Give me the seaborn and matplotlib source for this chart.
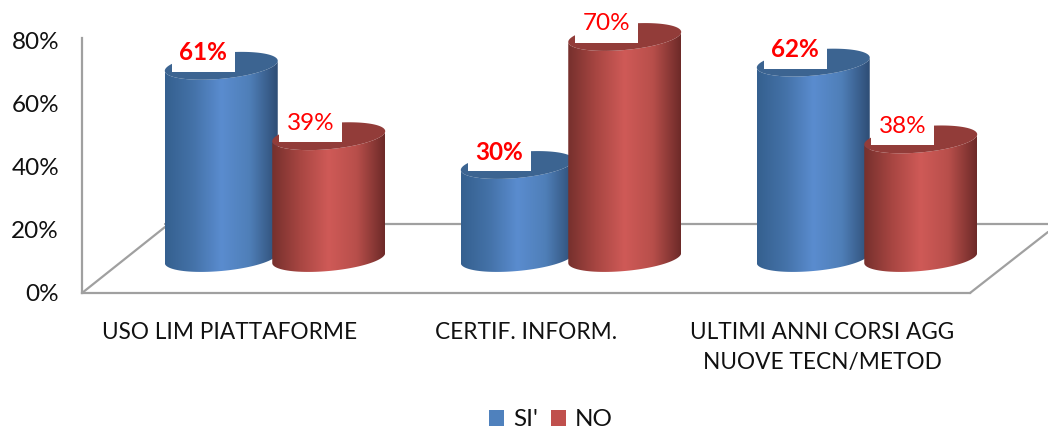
import numpy as np
import pandas as pd
import seaborn as sns
import matplotlib.pyplot as plt
from matplotlib.colors import LinearSegmentedColormap
from matplotlib.lines import Line2D
from matplotlib.patches import Patch, Polygon, Rectangle
from matplotlib.transforms import Affine2D

categories = ['USO LIM PIATTAFORME', 'CERTIF. INFORM.', 'ULTIMI ANNI CORSI AGG\nNUOVE TECN/METOD']
si_values = [61, 30, 62]
no_values = [39, 70, 38]
y_ticks = [0, 20, 40, 60, 80]

W, H = 1048, 430
FONT = 'Lato'
GREY = '#a0a0a0'
INK = '#111111'

# colours of the cylinders: side gradient (dark, light, dark), top face, legend swatch
STYLE = {
    "SI'": dict(side=['#35608f', '#4472a8', '#5a8ccf', '#4f7fb8', '#2e4d75'], top='#3c6491', swatch='#4f81bd', weight='bold'),
    'NO': dict(side=['#76302d', '#a84642', '#cf5a57', '#b84f4b', '#6d2a28'], top='#923c39', swatch='#c0504d', weight='normal'),
}

df = pd.DataFrame({
    'cat': categories * 2,
    'serie': ["SI'"] * 3 + ['NO'] * 3,
    'val': si_values + no_values,
})

sns.set_theme(style='white')
plt.rcParams['font.family'] = [FONT, 'DejaVu Sans']


def axes_box(left, right, top, bottom):
    return [left / W, 1 - bottom / H, (right - left) / W, (bottom - top) / H]


fig = plt.figure(figsize=(W / 100, H / 100), dpi=100)

# front plane of the fake 3D chart: axis, ticks and category labels
wall = fig.add_axes(axes_box(82, 970, 38, 293))
wall.set_xlim(-0.5, 2.5)
wall.set_ylim(-0.2, 80.9)
wall.set_xticks(range(3))
wall.set_xticklabels(categories, fontsize=16.3, color=INK, linespacing=1.52)
wall.set_yticks(y_ticks)
wall.set_yticklabels([f'{v}%' for v in y_ticks], fontsize=17.5, color=INK)
wall.tick_params(axis='y', length=0, pad=16.5)
wall.tick_params(axis='x', length=0, pad=21)
for side in ['top', 'right']:
    wall.spines[side].set_visible(False)
for side in ['left', 'bottom']:
    wall.spines[side].set_color(GREY)
    wall.spines[side].set_linewidth(1.6)

# floor outline
to_px = Affine2D().scale(1, -1).translate(0, H)
for xs, ys in [([82, 165], [293, 227]), ([165, 1048], [224, 224]), ([970, 1048], [293, 232])]:
    wall.add_line(Line2D(xs, ys, color=GREY, lw=1.6, transform=to_px, clip_on=False))

# back plane with the bars, shifted by the depth of the floor
ax = fig.add_axes(axes_box(127, 1015, 5, 261), zorder=2)
ax.patch.set_visible(False)
sns.barplot(data=df, x='cat', y='val', hue='serie', hue_order=list(STYLE), order=categories,
            width=0.726, gap=0, palette=[s['swatch'] for s in STYLE.values()], legend=False, ax=ax)
ax.set_xlim(-0.5, 2.5)
ax.set_ylim(0, 80)
ax.axis('off')
ax.set_autoscale_on(False)


def to_data(x, y):
    return ax.transData.inverted().transform(np.column_stack([x, H - np.asarray(y)]))


def rim(cx, cy, half_w, t):
    # slightly tilted ellipse, the tilt comes from the shear term
    return cx + half_w * np.cos(t), cy + 13 * np.sin(t) + 5 * np.cos(np.pi - t)


gradient_row = np.linspace(0, 1, 256).reshape(1, -1)
fig.canvas.draw()
for name, container in zip(STYLE, ax.containers):
    st = STYLE[name]
    cmap = LinearSegmentedColormap.from_list(name, st['side'])
    for bar, value in zip(container, df.loc[df['serie'] == name, 'val']):
        box = bar.get_window_extent()
        bar.set_visible(False)
        cx = (box.x0 + box.x1) / 2
        half_w = box.width * 113 / 107.5 / 2
        y_top = H - box.y1
        y_base = H - box.y0 - 3

        t_front = np.linspace(0, np.pi, 60)
        xb, yb = rim(cx, y_base, half_w, t_front)
        xt, yt = rim(cx, y_top, half_w, t_front[::-1])
        outline = to_data(np.r_[xb, xt], np.r_[yb, yt])
        clip = Polygon(outline, closed=True, facecolor='none', edgecolor='none', zorder=3, clip_on=False)
        ax.add_patch(clip)
        corners = to_data([cx - half_w, cx + half_w], [y_base + 20, y_top - 20])
        img = ax.imshow(gradient_row, cmap=cmap, aspect='auto', zorder=3,
                        extent=(corners[0, 0], corners[1, 0], corners[0, 1], corners[1, 1]))
        img.set_clip_path(clip)
        img.set_clip_box(fig.bbox)

        xe, ye = rim(cx, y_top, half_w, np.linspace(0, 2 * np.pi, 120))
        ax.add_patch(Polygon(to_data(xe, ye), closed=True, facecolor=st['top'], edgecolor='none', zorder=3))

        # white box behind the value label
        left = cx - half_w + 7
        box_bottom = y_top + 6
        (x0, y0), (x1, y1) = to_data([left, left + 63], [box_bottom, box_bottom - 27])
        ax.add_patch(Rectangle((x0, y0), x1 - x0, y1 - y0, facecolor='white', edgecolor='none', zorder=4))
        (tx, ty), = to_data([left + 31.5], [box_bottom - 19])
        ax.text(tx, ty, f'{value}%', color='#ff0000', fontsize=17.5, fontweight=st['weight'],
                ha='center', va='center', zorder=5)

handles = [Patch(facecolor=s['swatch'], edgecolor='none', label=n) for n, s in STYLE.items()]
fig.legend(handles=handles, ncol=2, frameon=False, loc='center', bbox_to_anchor=(551 / W, 1 - 420 / H),
           fontsize=17.5, handlelength=0.62, handleheight=0.62, handletextpad=0.35, columnspacing=0.55,
           labelcolor=INK)

fig.savefig('out.png', dpi=100)
plt.close()
